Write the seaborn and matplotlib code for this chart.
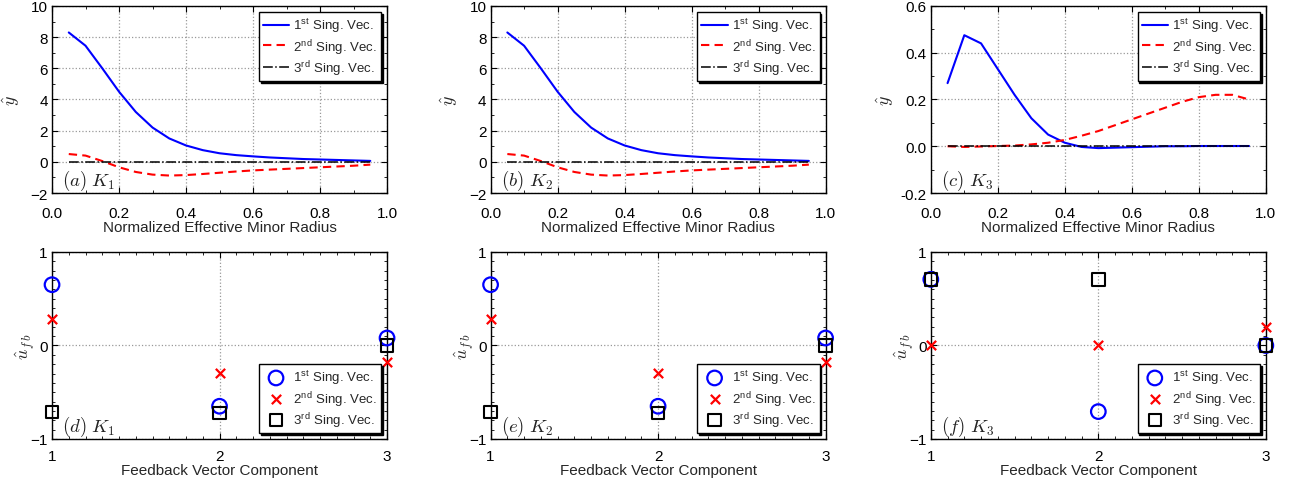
import matplotlib
matplotlib.use("Agg")
import matplotlib.pyplot as plt
import seaborn as sns
import pandas as pd
from matplotlib.ticker import MultipleLocator, FormatStrFormatter

# radial profiles of the output singular vectors
rho = [0.05, 0.10, 0.15, 0.20, 0.25, 0.30, 0.35, 0.40, 0.45, 0.50,
       0.55, 0.60, 0.65, 0.70, 0.75, 0.80, 0.85, 0.90, 0.95]

k1_sv1 = [8.3, 7.45, 6.0, 4.5, 3.2, 2.2, 1.5, 1.05, 0.75, 0.55,
          0.43, 0.35, 0.28, 0.23, 0.18, 0.15, 0.12, 0.09, 0.06]
k1_sv2 = [0.5, 0.4, 0.05, -0.35, -0.65, -0.82, -0.88, -0.85, -0.78, -0.7,
          -0.62, -0.55, -0.5, -0.45, -0.4, -0.35, -0.3, -0.25, -0.18]
k1_sv3 = [0.0] * 19

k3_sv1 = [0.27, 0.475, 0.44, 0.33, 0.22, 0.12, 0.05, 0.015, -0.003, -0.008,
          -0.006, -0.004, -0.002, 0.0, 0.0, 0.001, 0.001, 0.001, 0.001]
k3_sv2 = [0.0, -0.003, -0.001, 0.001, 0.003, 0.008, 0.015, 0.027, 0.045, 0.065,
          0.09, 0.115, 0.14, 0.165, 0.19, 0.21, 0.22, 0.22, 0.2]
k3_sv3 = [0.0] * 19

# feedback vector components (input singular vectors)
comp = [1, 2, 3]
k1_u1 = [0.65, -0.65, 0.08]
k1_u2 = [0.28, -0.29, -0.18]
k1_u3 = [-0.71, -0.72, 0.0]
k3_u1 = [0.707, -0.707, 0.0]
k3_u2 = [0.0, 0.0, 0.2]
k3_u3 = [0.707, 0.707, 0.0]

labels = ["1$^{\\mathregular{st}}$ Sing. Vec.", "2$^{\\mathregular{nd}}$ Sing. Vec.",
          "3$^{\\mathregular{rd}}$ Sing. Vec."]

sns.set_style("ticks")
plt.rcParams['font.family'] = ['Liberation Sans', 'DejaVu Sans']
plt.rcParams['mathtext.fontset'] = 'cm'
plt.rcParams['xtick.direction'] = 'in'
plt.rcParams['ytick.direction'] = 'in'

fig = plt.figure(figsize=(12.91, 4.85), dpi=100)
lefts = [0.0403, 0.380, 0.721]
w, h = 0.2595, 0.3856


def style_axes(ax, xpad):
    ax.tick_params(which='both', top=True, right=True, labelsize=11, colors='black')
    ax.tick_params(which='major', length=4, width=0.8)
    ax.tick_params(axis='x', which='major', pad=xpad)
    ax.tick_params(axis='y', which='major', pad=3)
    ax.tick_params(which='minor', length=2, width=0.6)
    ax.grid(True, which='major', linestyle=':', color='#999999', linewidth=0.9)
    for s in ax.spines.values():
        s.set_linewidth(1.0)
        s.set_color('black')


def legend(ax, loc):
    leg = ax.legend(loc=loc, fontsize=9.5, frameon=True, fancybox=False,
                    edgecolor='black', framealpha=1, borderaxespad=0.45,
                    handlelength=2.0, handletextpad=0.3, labelspacing=0.12,
                    borderpad=0.3,
                    shadow={'ox': 1.2, 'oy': -1.2, 'color': 'black', 'alpha': 1})
    leg.get_frame().set_linewidth(1.0)


top_data = [(k1_sv1, k1_sv2, k1_sv3, "$(a)\\ K_1$", (-2, 10), 2, 1),
            (k1_sv1, k1_sv2, k1_sv3, "$(b)\\ K_2$", (-2, 10), 2, 1),
            (k3_sv1, k3_sv2, k3_sv3, "$(c)\\ K_3$", (-0.2, 0.6), 0.2, 0.1)]

for i, (s1, s2, s3, tag, ylim, major, minor) in enumerate(top_data):
    ax = fig.add_axes([lefts[i], 0.6, w, h])
    df = pd.DataFrame({'rho': rho, 's1': s1, 's2': s2, 's3': s3})
    sns.lineplot(data=df, x='rho', y='s1', ax=ax, color='blue', lw=1.5, label=labels[0])
    sns.lineplot(data=df, x='rho', y='s2', ax=ax, color='red', lw=1.5,
                 linestyle=(0, (4, 2.5)), label=labels[1])
    sns.lineplot(data=df, x='rho', y='s3', ax=ax, color='black', lw=1.1,
                 linestyle='-.', label=labels[2])
    ax.set_xlim(0, 1)
    ax.set_ylim(*ylim)
    ax.xaxis.set_major_locator(MultipleLocator(0.2))
    ax.xaxis.set_minor_locator(MultipleLocator(0.1))
    ax.yaxis.set_major_locator(MultipleLocator(major))
    ax.yaxis.set_minor_locator(MultipleLocator(minor))
    ax.xaxis.set_major_formatter(FormatStrFormatter('%.1f'))
    if major < 1:
        ax.yaxis.set_major_formatter(FormatStrFormatter('%.1f'))
    ax.set_xlabel('Normalized Effective Minor Radius', fontsize=11, labelpad=0)
    ax.set_ylabel('$\\hat{y}$', fontsize=13)
    ax.yaxis.set_label_coords(-0.09 if major >= 1 else -0.105, 0.5)
    ax.text(0.03, 0.07, tag, transform=ax.transAxes, fontsize=13.5, va='center', color='#222222')
    style_axes(ax, 9)
    legend(ax, 'upper right')

bot_data = [(k1_u1, k1_u2, k1_u3, "$(d)\\ K_1$"),
            (k1_u1, k1_u2, k1_u3, "$(e)\\ K_2$"),
            (k3_u1, k3_u2, k3_u3, "$(f)\\ K_3$")]

for i, (u1, u2, u3, tag) in enumerate(bot_data):
    ax = fig.add_axes([lefts[i], 0.0928, w, h])
    df = pd.DataFrame({'c': comp, 'u1': u1, 'u2': u2, 'u3': u3})
    sns.scatterplot(data=df, x='c', y='u1', ax=ax, marker='o', s=110,
                    facecolor='none', edgecolor='blue', linewidth=1.6,
                    label=labels[0], clip_on=False, zorder=3)
    sns.scatterplot(data=df, x='c', y='u2', ax=ax, marker='x', s=45,
                    color='red', linewidth=1.6, label=labels[1], clip_on=False, zorder=3)
    sns.scatterplot(data=df, x='c', y='u3', ax=ax, marker='s', s=80,
                    facecolor='none', edgecolor='black', linewidth=1.5,
                    label=labels[2], clip_on=False, zorder=4)
    ax.set_xlim(1, 3)
    ax.set_ylim(-1, 1)
    ax.xaxis.set_major_locator(MultipleLocator(1))
    ax.xaxis.set_minor_locator(MultipleLocator(0.1))
    ax.yaxis.set_major_locator(MultipleLocator(1))
    ax.yaxis.set_minor_locator(MultipleLocator(0.1))
    ax.set_xlabel('Feedback Vector Component', fontsize=11, labelpad=0)
    ax.set_ylabel('$\\hat{u}_{f\\,b}$', fontsize=13)
    ax.yaxis.set_label_coords(-0.045, 0.5)
    ax.text(0.03, 0.07, tag, transform=ax.transAxes, fontsize=13.5, va='center', color='#222222')
    style_axes(ax, 7)
    legend(ax, 'lower right')

fig.savefig('out.png', dpi=100)
